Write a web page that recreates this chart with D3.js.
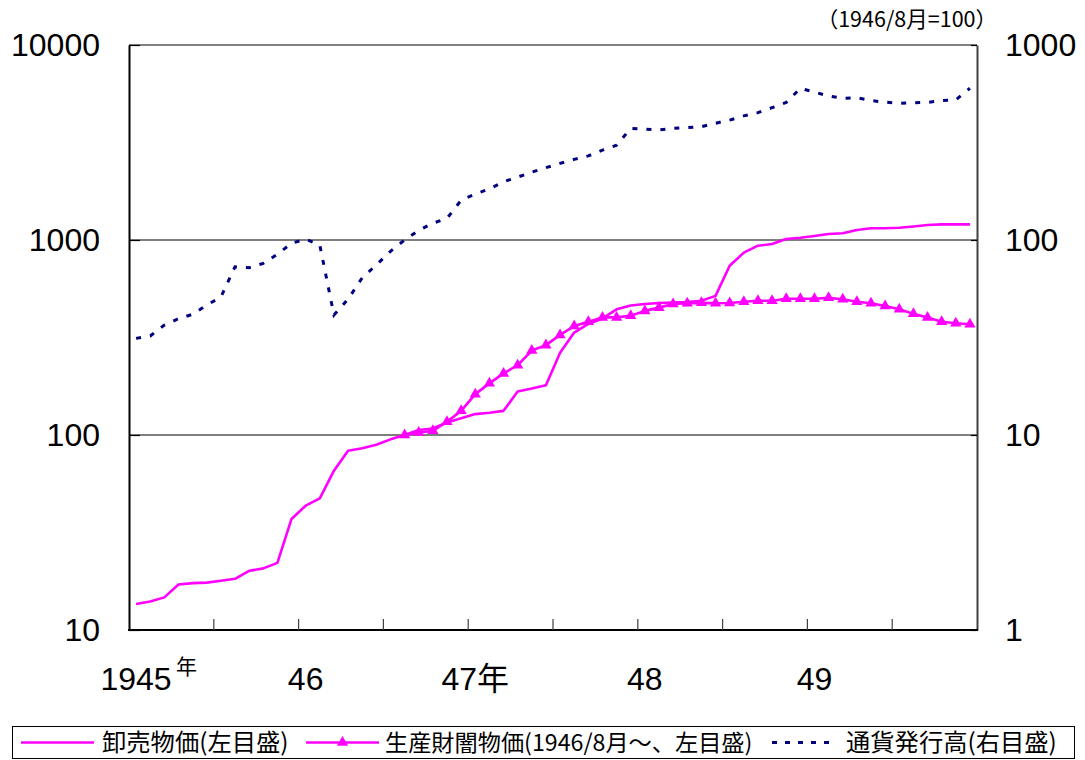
<!DOCTYPE html>
<html><head><meta charset="utf-8">
<script src="https://cdn.jsdelivr.net/npm/d3@7"></script>
<style>
body{margin:0;background:#fff;}
svg{display:block;}
</style></head>
<body>
<svg id="chart" width="1085" height="760"></svg>
<script>
// ---- data ----
const months = [
"1945/1","1945/2","1945/3","1945/4","1945/5","1945/6","1945/7","1945/8","1945/9","1945/10","1945/11","1945/12",
"1946/1","1946/2","1946/3","1946/4","1946/5","1946/6","1946/7","1946/8","1946/9","1946/10","1946/11","1946/12",
"1947/1","1947/2","1947/3","1947/4","1947/5","1947/6","1947/7","1947/8","1947/9","1947/10","1947/11","1947/12",
"1948/1","1948/2","1948/3","1948/4","1948/5","1948/6","1948/7","1948/8","1948/9","1948/10","1948/11","1948/12",
"1949/1","1949/2","1949/3","1949/4","1949/5","1949/6","1949/7","1949/8","1949/9","1949/10","1949/11","1949/12"];

// 卸売物価 (left axis)
const wholesale = [13.6,14.0,14.7,17.1,17.4,17.5,17.9,18.3,20.1,20.7,22.1,37.1,
43.4,47.3,65.6,83,85.5,89.2,95,100,106,108,116,122,
128,130,133,167,173,180,264,335,371,396,441,461,
470,475,478,480,488,517,738,861,935,953,1012,1027,
1048,1073,1082,1125,1148,1148,1155,1172,1193,1203,1203,1203];

// 生産財闇物価 (left axis, from 1946/8)
const blackMarket = [null,null,null,null,null,null,null,null,null,null,null,null,
null,null,null,null,null,null,null,100,103,105,117,133,
162,184,207,228,271,289,326,362,381,401,401,409,
433,450,470,474,476,474,475,482,488,488,500,500,
500,505,497,482,474,459,441,418,401,381,374,370];

// 通貨発行高 (right axis)
const currency = [31.3,32.2,36.6,39.5,41.6,46.4,50.9,72.9,72.1,75.9,84.5,96.2,
101,94.3,41.2,49.7,64,74.5,87.5,100,112,122,129,160,
172,183,199,210,223,235,247,259,270,289,306,374,
370,367,374,377,381,397,412,433,450,477,507,600,
573,548,533,536,519,509,502,506,508,519,523,600];

const leftTicks = [10,100,1000,10000];
const rightTicks = [1,10,100,1000];
const gridValues = [100,1000];
const xLabelMonths = ["1945/1","1946/1","1947/1","1948/1","1949/1"];
const xLabels = ["1945","46","47年","48","49"];
const xTickMonths = months.filter((m,i)=> i>0 && i%6===0);
const seriesNames = ["卸売物価(左目盛)","生産財闇物価(1946/8月～、左目盛)","通貨発行高(右目盛)"];
const unitNote = "（1946/8月=100）";

// ---- layout ----
const L=129, R=977, T=45, B=630;
const MAG="#ff00ff", NAVY="#000080";
const NUM_FONT="'Liberation Sans', Arial, 'Noto Sans CJK JP', sans-serif";
const JP_FONT="'Noto Sans CJK JP', sans-serif";

const svg = d3.select("#chart");
const x = d3.scaleBand().domain(months).range([L,R]).padding(0);
const cx = m => x(m) + x.bandwidth()/2;
const yL = d3.scaleLog().domain([10,10000]).range([B,T]);
const yR = d3.scaleLog().domain([1,1000]).range([B,T]);

// gridlines
svg.append("g").selectAll("line").data(gridValues).join("line")
  .attr("x1",L).attr("x2",R).attr("y1",d=>yL(d)).attr("y2",d=>yL(d))
  .attr("stroke","#000").attr("stroke-width",1.2);

// frame top
svg.append("line").attr("x1",L).attr("x2",R).attr("y1",T).attr("y2",T)
  .attr("stroke","#808080").attr("stroke-width",2);

// left axis
const axL = svg.append("g").attr("transform",`translate(${L},0)`)
  .call(d3.axisLeft(yL).tickValues(leftTicks).tickFormat(d3.format("d")).tickSizeInner(-11).tickSizeOuter(0).tickPadding(29));
axL.select(".domain").attr("stroke","#000").attr("stroke-width",2);
axL.selectAll(".tick line").attr("stroke","#000").attr("stroke-width",1.2);
axL.selectAll(".tick text").attr("font-family",NUM_FONT).attr("font-size",32).attr("fill","#000");

// right axis
const axR = svg.append("g").attr("transform",`translate(${R},0)`)
  .call(d3.axisRight(yR).tickValues(rightTicks).tickFormat(d3.format("d")).tickSizeInner(-6).tickSizeOuter(0).tickPadding(28));
axR.select(".domain").attr("stroke","#404040").attr("stroke-width",2);
axR.selectAll(".tick line").attr("stroke","#000").attr("stroke-width",1.2);
axR.selectAll(".tick text").attr("font-family",NUM_FONT).attr("font-size",32).attr("fill","#000");

// bottom axis
svg.append("line").attr("x1",L-1).attr("x2",R+1).attr("y1",B).attr("y2",B)
  .attr("stroke","#000").attr("stroke-width",2);
svg.append("g").selectAll("line").data(xTickMonths).join("line")
  .attr("x1",d=>x(d)).attr("x2",d=>x(d)).attr("y1",B).attr("y2",B-11)
  .attr("stroke","#404040").attr("stroke-width",1.2);
svg.append("g").selectAll("text").data(xLabels).join("text")
  .attr("x",(d,i)=>cx(xLabelMonths[i])).attr("y",690)
  .attr("text-anchor","middle").attr("font-family",NUM_FONT).attr("font-size",32)
  .text(d=>d);
// superscript 年 after 1945
svg.append("text").attr("x",cx(xLabelMonths[0])+40).attr("y",674)
  .attr("font-family",JP_FONT).attr("font-size",21).text("年");

// unit note
svg.append("text").attr("x",997).attr("y",27).attr("text-anchor","end")
  .attr("font-family",JP_FONT).attr("font-size",21.5).text(unitNote);

// lines
const lineL = d3.line().defined(d=>d.v!=null).x(d=>cx(d.m)).y(d=>yL(d.v));
const lineR = d3.line().defined(d=>d.v!=null).x(d=>cx(d.m)).y(d=>yR(d.v));
const toPts = arr => arr.map((v,i)=>({m:months[i],v}));

svg.append("path").datum(toPts(currency)).attr("d",lineR)
  .attr("fill","none").attr("stroke",NAVY).attr("stroke-width",3).attr("stroke-dasharray","5,9");

svg.append("path").datum(toPts(wholesale)).attr("d",lineL)
  .attr("fill","none").attr("stroke",MAG).attr("stroke-width",2.6).attr("stroke-linejoin","round");

svg.append("path").datum(toPts(blackMarket)).attr("d",lineL)
  .attr("fill","none").attr("stroke",MAG).attr("stroke-width",2.6).attr("stroke-linejoin","round");

const tri = d3.symbol().type(d3.symbolTriangle).size(55);
svg.append("g").selectAll("path").data(toPts(blackMarket).filter(d=>d.v!=null)).join("path")
  .attr("d",tri).attr("transform",d=>`translate(${cx(d.m)},${yL(d.v)})`).attr("fill",MAG);

// legend
const lg = svg.append("g");
lg.append("rect").attr("x",12.5).attr("y",726.5).attr("width",1062).attr("height",32)
  .attr("fill","#fff").attr("stroke","#000").attr("stroke-width",1);
const legY = 742.5;
const legItems = [
  {x1:21,x2:94,tx:102,style:"solid",fs:24.3},
  {x1:306,x2:379,tx:385,style:"tri",fs:23.2},
  {x1:772,x2:832,tx:846,style:"dash",fs:24.3}
];
legItems.forEach((it,i)=>{
  const ln = lg.append("line").attr("x1",it.x1).attr("x2",it.x2).attr("y1",legY).attr("y2",legY);
  if(it.style==="dash"){
    ln.attr("stroke",NAVY).attr("stroke-width",3).attr("stroke-dasharray","5,8");
  } else {
    ln.attr("stroke",MAG).attr("stroke-width",2.6);
  }
  if(it.style==="tri"){
    lg.append("path").attr("d",tri).attr("transform",`translate(${(it.x1+it.x2)/2},${legY})`).attr("fill",MAG);
  }
  lg.append("text").attr("x",it.tx).attr("y",legY).attr("dy","0.35em")
    .attr("font-family",JP_FONT).attr("font-size",it.fs).text(seriesNames[i]);
});
</script>
</body></html>
